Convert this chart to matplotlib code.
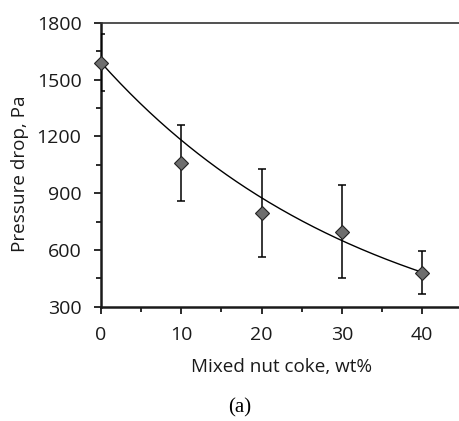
import numpy as np
import matplotlib
matplotlib.use("Agg")
import matplotlib.pyplot as plt
from matplotlib.ticker import MultipleLocator

# Mixed nut coke content and measured pressure drop
coke_wt = [0, 10, 20, 30, 40]
dp_mean = [1590, 1060, 795, 697, 480]
dp_upper = [1740, 1258, 1027, 941, 595]
dp_lower = [1440, 860, 565, 455, 368]

# Exponential trendline  y = a * exp(k * x)
trend_a = 1590
trend_k = -0.0298

plt.rcParams['font.family'] = ['Open Sans', 'DejaVu Sans']

fig = plt.figure(figsize=(4.59, 4.21), dpi=100)
ax = fig.add_axes([0.220, 0.271, 0.787, 0.675])

x = np.array(coke_wt)
y = np.array(dp_mean)
yerr = [y - np.array(dp_lower), np.array(dp_upper) - y]

xt = np.linspace(0, 40, 200)
ax.plot(xt, trend_a * np.exp(trend_k * xt), color='black', lw=1.0, zorder=2)

# error bars; caps as clipped segments so the one at x=0 is cut by the axis
ax.errorbar(x, y, yerr=yerr, fmt='none', ecolor='black', elinewidth=1.1,
            capsize=0, zorder=3)
cap_hw = 0.5
ax.hlines(dp_upper, x - cap_hw, x + cap_hw, colors='black', lw=1.1, zorder=3)
ax.hlines(dp_lower, x - cap_hw, x + cap_hw, colors='black', lw=1.1, zorder=3)

ax.plot(x, y, linestyle='none', marker='D', ms=7, mfc='#6e6e6e',
        mec='#222222', mew=0.8, zorder=4, clip_on=False)

ax.set_xlim(0, 45)
ax.set_ylim(300, 1800)
ax.xaxis.set_major_locator(MultipleLocator(10))
ax.xaxis.set_minor_locator(MultipleLocator(5))
ax.yaxis.set_major_locator(MultipleLocator(300))
ax.yaxis.set_minor_locator(MultipleLocator(150))

for s in ['left', 'bottom']:
    ax.spines[s].set_linewidth(1.8)
    ax.spines[s].set_color('#1a1a1a')
ax.spines['top'].set_linewidth(1.2)
ax.spines['top'].set_color('#333333')
ax.spines['right'].set_visible(False)

ax.tick_params(which='major', direction='out', length=5, width=1.3,
               labelsize=14, color='#1a1a1a', labelcolor='#1a1a1a', pad=9)
ax.tick_params(which='minor', direction='out', length=3.6, width=1.3,
               color='#1a1a1a')

ax.set_xlabel('Mixed nut coke, wt%', fontsize=13.6, color='#1a1a1a',
              labelpad=10)
ax.set_ylabel('Pressure drop, Pa', fontsize=13.6, color='#1a1a1a')
ax.yaxis.set_label_coords(-0.199, 0.468)

fig.text(0.522, 0.02, '(a)', family='Liberation Serif', fontsize=15,
         ha='center', va='baseline')

fig.savefig('out.png', dpi=100)
